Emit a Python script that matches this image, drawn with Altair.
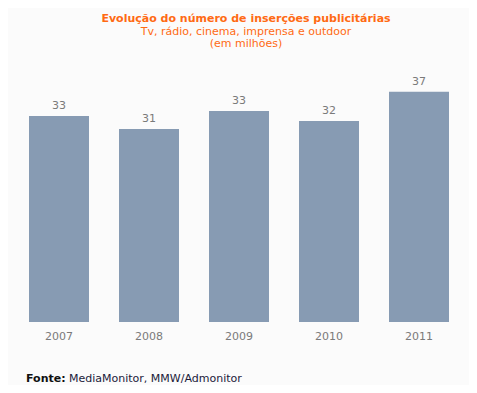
import altair as alt
import pandas as pd

years = ["2007", "2008", "2009", "2010", "2011"]
values = [33.1, 31.0, 33.9, 32.3, 37.0]
labels = ["33", "31", "33", "32", "37"]

title_text = "Evolução do número de inserções publicitárias"
subtitle_lines = ["Tv, rádio, cinema, imprensa e outdoor", "(em milhões)"]
footer_bold = ["Fonte:"]
footer_rest = ["MediaMonitor, MMW/Admonitor"]

df = pd.DataFrame({"ano": years, "valor": values, "rotulo": labels})
foot_b = pd.DataFrame({"t": footer_bold})
foot_r = pd.DataFrame({"t": footer_rest})

FONT = "DejaVu Sans"
ORANGE = "#ff6a13"

x = alt.X("ano:N", sort=years, title=None,
          scale=alt.Scale(paddingInner=1/3, paddingOuter=1/6),
          axis=alt.Axis(labelAngle=0, domain=False, ticks=False, labelPadding=8,
                        labelColor="#7a7a7a", labelFont=FONT, labelFontSize=11))
y = alt.Y("valor:Q", title=None, scale=alt.Scale(domain=[0, 40], nice=False),
          axis=None)

bars = alt.Chart(df).mark_bar(color="#879bb3").encode(x=x, y=y)
text = alt.Chart(df).mark_text(baseline="alphabetic", dy=-7, color="#7a7a7a",
                               font=FONT, fontSize=11).encode(
    x=alt.X("ano:N", sort=years), y="valor:Q", text="rotulo:N")

fb = alt.Chart(foot_b).mark_text(align="left", baseline="alphabetic", font=FONT,
                                 fontSize=11, fontWeight="bold", color="#111111").encode(
    x=alt.value(12), y=alt.value(309), text="t:N")
fr = alt.Chart(foot_r).mark_text(align="left", baseline="alphabetic", font=FONT,
                                 fontSize=11, color="#1a1a3a").encode(
    x=alt.value(55), y=alt.value(309), text="t:N")

chart = alt.layer(bars, text, fb, fr).properties(
    width=450, height=249,
    autosize=alt.AutoSizeParams(type="none"),
    padding={"left": 6, "top": 65, "right": 5, "bottom": 63},
    background="#fbfbfb",
    title=alt.TitleParams(
        text=title_text, subtitle=subtitle_lines, anchor="middle", dx=7,
        font=FONT, fontSize=11, fontWeight="bold", color=ORANGE,
        subtitleFont=FONT, subtitleFontSize=11, subtitleColor=ORANGE,
        subtitleLineHeight=12, subtitlePadding=2, offset=24),
).configure_view(stroke=None)

chart.save("out.html", embed_options={"renderer": "svg", "actions": False})
